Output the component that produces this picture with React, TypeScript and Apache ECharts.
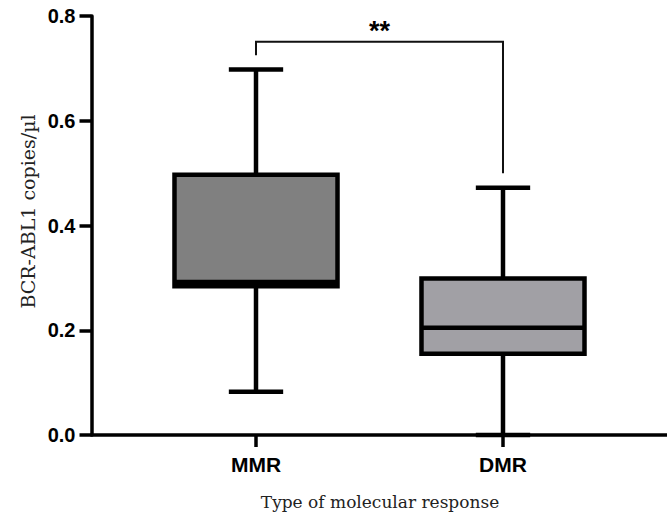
import React, { useEffect, useRef } from "react";
import * as echarts from "echarts";

const categories = ["MMR", "DMR"];
const whiskerMin = [0.0825, 0.0];
const q1 = [0.284, 0.155];
const median = [0.292, 0.205];
const q3 = [0.497, 0.299];
const whiskerMax = [0.698, 0.472];

// significance bracket between the two groups
const bracketTop = 0.751;
const bracketEnds = [0.725, 0.5];
const bracketLabel = "**";

const boxColors = ["#808080", "#a1a0a5"];

export default function App() {
  const ref = useRef<HTMLDivElement>(null);
  useEffect(() => {
    if (!ref.current) return;
    const chart = echarts.init(ref.current, null, { renderer: "svg" });
    const boxData = categories.map((c, i) => [i, whiskerMin[i], q1[i], median[i], q3[i], whiskerMax[i]]);
    const lw = 4.5;
    chart.setOption({
      animation: false,
      grid: { left: 91.5, right: 0, top: 16, bottom: 84 },
      xAxis: {
        type: "value",
        min: -0.666,
        max: 1.664,
        splitLine: { show: false },
        axisLine: { show: true, onZero: false, lineStyle: { color: "#000", width: 3.5 } },
        axisTick: { show: true, customValues: [0, 1], length: 12, lineStyle: { color: "#000", width: 3.5 } },
        axisLabel: {
          customValues: [0, 1],
          formatter: (v: number) => categories[Math.round(v)] ?? "",
          fontFamily: "Liberation Sans, Arial, sans-serif",
          fontWeight: "bold",
          fontSize: 21,
          color: "#000",
          margin: 19,
        },
      },
      yAxis: {
        type: "value",
        min: 0,
        max: 0.8,
        interval: 0.2,
        splitLine: { show: false },
        axisLine: { show: true, onZero: false, lineStyle: { color: "#000", width: 3.5 } },
        axisTick: { show: true, length: 12, lineStyle: { color: "#000", width: 3.5 } },
        axisLabel: {
          formatter: (v: number) => v.toFixed(1),
          fontFamily: "Liberation Sans, Arial, sans-serif",
          fontWeight: "bold",
          fontSize: 20,
          color: "#000",
          margin: 16,
        },
      },
      graphic: [
        {
          type: "text",
          x: 27.5,
          y: 211.5,
          rotation: Math.PI / 2,
          style: {
            text: "BCR-ABL1 copies/µl",
            fontFamily: "DejaVu Serif, serif",
            fontSize: 19,
            fill: "#222",
            textAlign: "center",
            textVerticalAlign: "middle",
          },
        },
        {
          type: "text",
          x: 380,
          y: 502,
          style: {
            text: "Type of molecular response",
            fontFamily: "DejaVu Serif, serif",
            fontSize: 17,
            fill: "#222",
            textAlign: "center",
            textVerticalAlign: "middle",
          },
        },
      ],
      series: [
        {
          type: "custom",
          clip: false,
          data: boxData,
          renderItem: (params: any, api: any) => {
            const i = params.dataIndex;
            const x = api.value(0);
            const bw = api.size([1, 0])[0];
            const half = bw * 0.33;
            const cap = bw * 0.11;
            const pMin = api.coord([x, api.value(1)]);
            const pQ1 = api.coord([x, api.value(2)]);
            const pMed = api.coord([x, api.value(3)]);
            const pQ3 = api.coord([x, api.value(4)]);
            const pMax = api.coord([x, api.value(5)]);
            const ls = { stroke: "#000", lineWidth: lw, fill: "none" };
            return {
              type: "group",
              children: [
                { type: "line", shape: { x1: pMax[0], y1: pMax[1], x2: pQ3[0], y2: pQ3[1] }, style: ls },
                { type: "line", shape: { x1: pMin[0], y1: pMin[1], x2: pQ1[0], y2: pQ1[1] }, style: ls },
                { type: "line", shape: { x1: pMax[0] - cap, y1: pMax[1], x2: pMax[0] + cap, y2: pMax[1] }, style: ls },
                { type: "line", shape: { x1: pMin[0] - cap, y1: pMin[1], x2: pMin[0] + cap, y2: pMin[1] }, style: ls },
                {
                  type: "rect",
                  shape: { x: pQ3[0] - half, y: pQ3[1], width: half * 2, height: pQ1[1] - pQ3[1] },
                  style: { fill: boxColors[i], stroke: "#000", lineWidth: lw },
                },
                { type: "line", shape: { x1: pMed[0] - half, y1: pMed[1], x2: pMed[0] + half, y2: pMed[1] }, style: ls },
              ],
            };
          },
        },
        {
          type: "custom",
          clip: false,
          data: [[0, 1, bracketTop, bracketEnds[0], bracketEnds[1]]],
          renderItem: (params: any, api: any) => {
            const a = api.coord([api.value(0), api.value(3)]);
            const b = api.coord([api.value(0), api.value(2)]);
            const c = api.coord([api.value(1), api.value(2)]);
            const d = api.coord([api.value(1), api.value(4)]);
            return {
              type: "group",
              children: [
                {
                  type: "polyline",
                  shape: { points: [a, b, c, d] },
                  style: { stroke: "#111", lineWidth: 2, fill: "none" },
                },
                {
                  type: "text",
                  x: (b[0] + c[0]) / 2,
                  y: b[1] - 11,
                  style: {
                    text: bracketLabel,
                    fontFamily: "Liberation Sans, Arial, sans-serif",
                    fontWeight: "bold",
                    fontSize: 27,
                    fill: "#000",
                    textAlign: "center",
                    textVerticalAlign: "middle",
                  },
                },
              ],
            };
          },
        },
      ],
    });
    return () => chart.dispose();
  }, []);
  return <div ref={ref} style={{ width: 667, height: 519, position: "absolute", left: 0, top: 0 }} />;
}
